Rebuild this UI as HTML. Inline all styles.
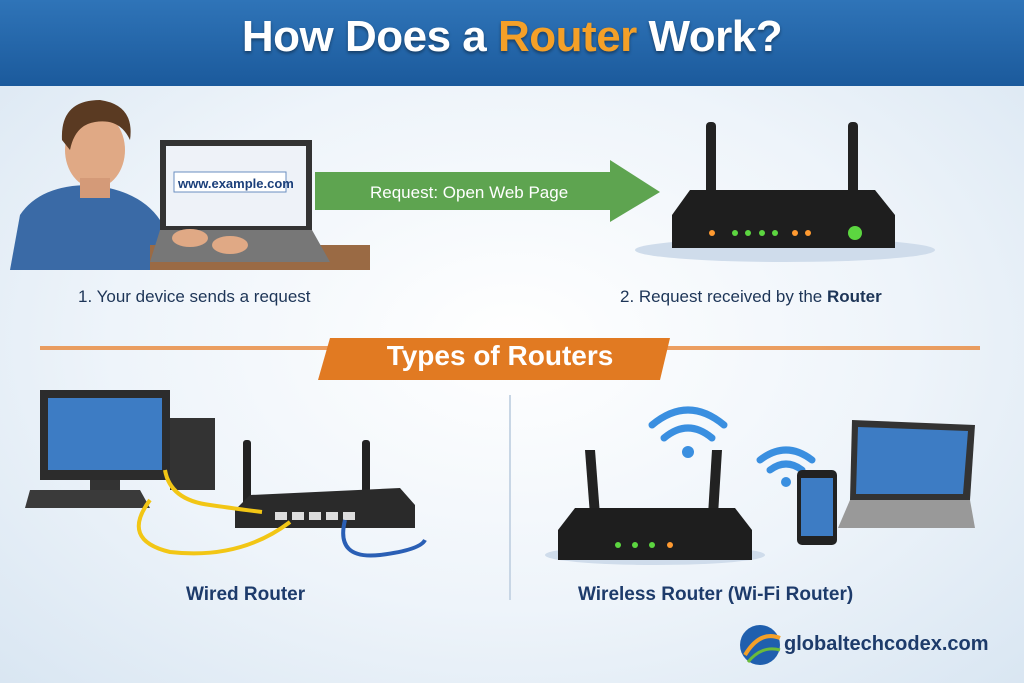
<!DOCTYPE html>
<html><head><meta charset="utf-8"><style>
body{margin:0;width:1024px;height:683px;overflow:hidden;font-family:"Liberation Sans",sans-serif;background:radial-gradient(ellipse at 50% 50%,#ffffff 0%,#eef4fa 55%,#d9e6f2 100%);position:relative}
.abs{position:absolute}
</style></head><body>
<div class="abs" style="left:0;top:0;width:1024px;height:86px;background:linear-gradient(#2f74b8,#1b5a9c);"></div>
<div class="abs" style="left:0;top:12px;width:1024px;text-align:center;font-size:44px;font-weight:bold;color:#fff;letter-spacing:-0.5px;text-shadow:0 2px 3px rgba(0,0,0,.4)">How Does a <span style="color:#f4a028">Router</span> Work?</div>

<svg class="abs" style="left:0;top:0" width="1024" height="683">
<path d="M10 270 L20 215 Q40 185 90 185 Q140 190 160 220 L175 270Z" fill="#3a6aa6"/>
<ellipse cx="95" cy="150" rx="30" ry="38" fill="#e0a985"/>
<path d="M62 140 Q60 100 100 100 Q135 105 130 140 Q120 118 95 122 Q75 125 70 150Z" fill="#5a3a22"/>
<rect x="80" y="178" width="30" height="20" fill="#d49a78"/>
<rect x="150" y="245" width="220" height="25" fill="#9a6a44"/>
<polygon points="160,140 312,140 312,230 160,230" fill="#333"/>
<rect x="166" y="146" width="140" height="80" fill="#eef2f8"/>
<rect x="174" y="172" width="112" height="20" fill="#fff" stroke="#6b8fc0"/>
<text x="178" y="188" font-size="13" font-weight="bold" fill="#1b3f7a">www.example.com</text>
<polygon points="160,230 312,230 330,262 150,262" fill="#777"/>
<ellipse cx="190" cy="238" rx="18" ry="9" fill="#e0a985"/>
<ellipse cx="230" cy="245" rx="18" ry="9" fill="#e0a985"/>
<polygon points="315,172 610,172 610,160 660,192 610,222 610,210 315,210" fill="#4e9a3d" opacity=".9"/>
<text x="370" y="198" font-size="17" fill="#fff">Request: Open Web Page</text>
<rect x="706" y="122" width="10" height="78" rx="4" fill="#222"/>
<rect x="848" y="122" width="10" height="78" rx="4" fill="#222"/>
<ellipse cx="785" cy="250" rx="150" ry="12" fill="#cfdceb"/>
<polygon points="690,190 875,190 895,215 895,248 672,248 672,215" fill="#1e1e1e"/>
<g fill="#ff9a30"><circle cx="712" cy="233" r="3"/><circle cx="795" cy="233" r="3"/><circle cx="808" cy="233" r="3"/></g>
<g fill="#5cd640"><circle cx="735" cy="233" r="3"/><circle cx="748" cy="233" r="3"/><circle cx="762" cy="233" r="3"/><circle cx="775" cy="233" r="3"/><circle cx="855" cy="233" r="7"/></g>
<rect x="40" y="346" width="940" height="4" fill="#e8873a" opacity=".8"/>
<polygon points="330,338 670,338 660,380 318,380" fill="#e17a22"/>
<line x1="510" y1="395" x2="510" y2="600" stroke="#c8d6e5" stroke-width="2"/>
<rect x="40" y="390" width="130" height="90" fill="#2c2c2c"/>
<rect x="48" y="398" width="114" height="72" fill="#3d7cc4"/>
<rect x="90" y="480" width="30" height="15" fill="#333"/>
<rect x="170" y="418" width="45" height="72" fill="#333"/>
<polygon points="30,490 140,490 150,508 25,508" fill="#3a3a3a"/>
<rect x="243" y="440" width="8" height="70" rx="3" fill="#222"/>
<rect x="362" y="440" width="8" height="70" rx="3" fill="#222"/>
<polygon points="250,495 400,488 415,505 415,528 235,528 235,510" fill="#2a2a2a"/>
<g fill="#ddd"><rect x="275" y="512" width="12" height="8"/><rect x="292" y="512" width="12" height="8"/><rect x="309" y="512" width="12" height="8"/><rect x="326" y="512" width="12" height="8"/><rect x="343" y="512" width="12" height="8"/></g>
<path d="M165 470 Q170 500 210 505 Q245 510 262 512 M150 500 Q120 540 170 552 Q240 560 290 522" stroke="#f2c615" stroke-width="4" fill="none"/>
<path d="M345 520 Q335 560 380 555 Q420 550 425 540" stroke="#2a5fb5" stroke-width="4" fill="none"/>
<ellipse cx="655" cy="555" rx="110" ry="10" fill="#cfdceb"/>
<polygon points="585,450 595,450 600,515 590,515" fill="#222"/>
<polygon points="712,450 722,450 718,515 708,515" fill="#222"/>
<polygon points="575,508 735,508 752,530 752,560 558,560 558,530" fill="#1e1e1e"/>
<g fill="#5cd640"><circle cx="618" cy="545" r="3"/><circle cx="635" cy="545" r="3"/><circle cx="652" cy="545" r="3"/></g>
<circle cx="670" cy="545" r="3" fill="#ff9a30"/>
<g fill="none" stroke="#3a8fe0" stroke-width="7" stroke-linecap="round">
<path d="M652 425 Q688 395 724 425"/><path d="M664 438 Q688 418 712 438"/>
<path d="M760 460 Q786 440 812 460"/><path d="M770 470 Q786 458 802 470"/>
</g>
<circle cx="688" cy="452" r="6" fill="#3a8fe0"/><circle cx="786" cy="482" r="5" fill="#3a8fe0"/>
<rect x="797" y="470" width="40" height="75" rx="5" fill="#222"/>
<rect x="801" y="478" width="32" height="58" fill="#3d7cc4"/>
<polygon points="852,420 975,425 970,500 850,500" fill="#333"/>
<polygon points="858,427 968,431 963,494 856,494" fill="#3d7cc4"/>
<polygon points="850,500 970,500 975,528 838,528" fill="#999"/>
<circle cx="760" cy="645" r="20" fill="#1f5fae"/>
<path d="M745 655 Q760 630 780 638" stroke="#f4a028" stroke-width="4" fill="none"/>
<path d="M748 662 Q762 645 780 650" stroke="#6bbb3a" stroke-width="3" fill="none"/>
</svg>

<div class="abs" style="left:78px;top:287px;font-size:17px;color:#1d3557">1. Your device sends a request</div>
<div class="abs" style="left:620px;top:287px;font-size:17px;color:#1d3557">2. Request received by the <b>Router</b></div>
<div class="abs" style="left:330px;top:340px;width:340px;text-align:center;font-size:28px;font-weight:bold;color:#fff">Types of Routers</div>
<div class="abs" style="left:186px;top:584px;font-size:19px;font-weight:bold;color:#1d3b6b">Wired Router</div>
<div class="abs" style="left:578px;top:584px;font-size:19px;font-weight:bold;color:#1d3b6b">Wireless Router (Wi-Fi Router)</div>
<div class="abs" style="left:784px;top:633px;font-size:20px;font-weight:bold;color:#1d3b6b">globaltechcodex.com</div>
</body></html>
